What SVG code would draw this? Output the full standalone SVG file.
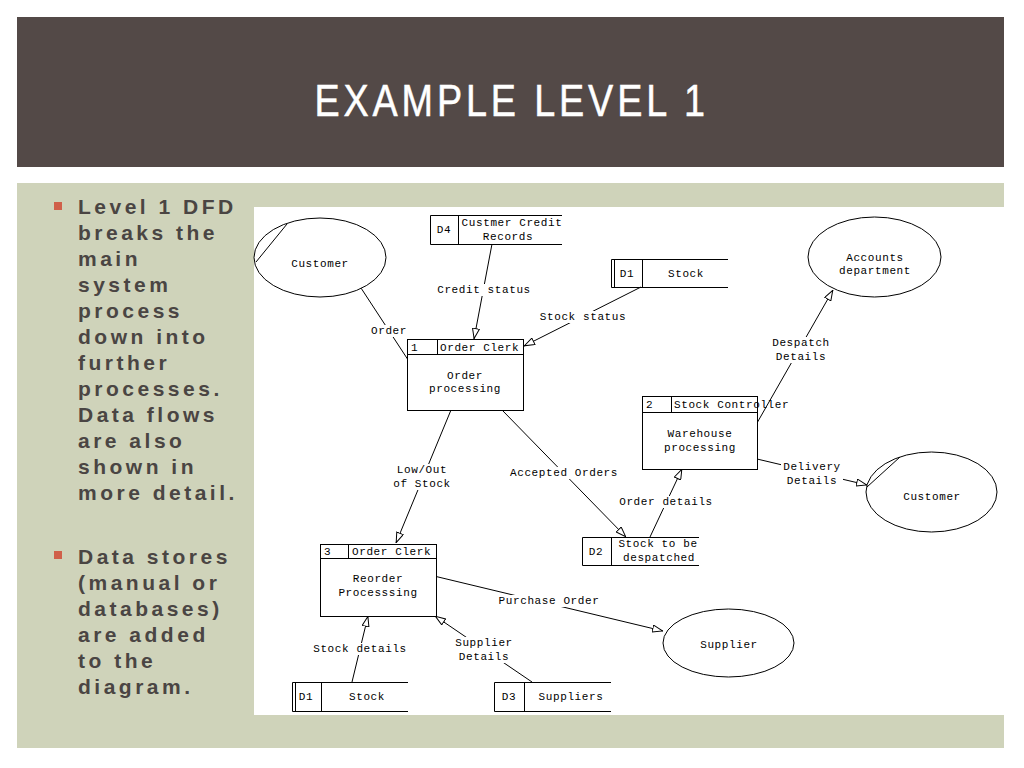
<svg xmlns="http://www.w3.org/2000/svg" width="1024" height="768" viewBox="0 0 1024 768">
<defs>
<style>
.title{font-family:"Liberation Sans","Arial",sans-serif;font-size:45px;fill:#ffffff;stroke:#ffffff;stroke-width:0.5px;text-anchor:middle;letter-spacing:3px;}
.bt{font-family:"Liberation Sans","Arial",sans-serif;font-size:21px;font-weight:bold;fill:#4a4543;letter-spacing:3.5px;}
.dt{font-family:"Liberation Mono","Courier New",monospace;font-size:11px;letter-spacing:0.6px;fill:#000;text-anchor:middle;}
.st{font-family:"Liberation Mono","Courier New",monospace;font-size:11px;letter-spacing:0.6px;fill:#000;}
.lbl{font-family:"Liberation Mono","Courier New",monospace;font-size:11px;letter-spacing:0.6px;fill:#000;text-anchor:middle;}
.bg{fill:#fff;stroke:none;}
.sh{fill:#fff;stroke:#000;stroke-width:1;}
.ln{fill:none;stroke:#000;stroke-width:1;}
.flow{fill:none;stroke:#000;stroke-width:1;marker-end:url(#arr);}
</style>
<marker id="arr" viewBox="0 0 11 8" refX="11" refY="4" markerWidth="11" markerHeight="8" markerUnits="userSpaceOnUse" orient="auto">
<path d="M0.5,0.5 L10.5,4 L0.5,7.5 Z" fill="#fff" stroke="#000" stroke-width="1"/>
</marker>
</defs>
<rect x="0" y="0" width="1024" height="768" fill="#ffffff"/>
<g id="header">
<rect x="17" y="17" width="987" height="150" fill="#534947"/>
<text class="title" transform="translate(511,116) scale(0.84,1)" x="0" y="0" textLength="468" lengthAdjust="spacing">EXAMPLE LEVEL 1</text>
</g>
<rect x="17" y="183" width="987" height="565" fill="#cfd3ba"/>
<g id="bullets">
<rect x="54" y="202" width="8" height="8" fill="#d0604a"/>
<text class="bt" x="78" y="214">Level 1 DFD</text>
<text class="bt" x="78" y="240">breaks the</text>
<text class="bt" x="78" y="266">main</text>
<text class="bt" x="78" y="292">system</text>
<text class="bt" x="78" y="318">process</text>
<text class="bt" x="78" y="344">down into</text>
<text class="bt" x="78" y="370">further</text>
<text class="bt" x="78" y="396">processes.</text>
<text class="bt" x="78" y="422">Data flows</text>
<text class="bt" x="78" y="448">are also</text>
<text class="bt" x="78" y="474">shown in</text>
<text class="bt" x="78" y="500">more detail.</text>
<rect x="54" y="551" width="8" height="8" fill="#d0604a"/>
<text class="bt" x="78" y="564">Data stores</text>
<text class="bt" x="78" y="590">(manual or</text>
<text class="bt" x="78" y="616">databases)</text>
<text class="bt" x="78" y="642">are added</text>
<text class="bt" x="78" y="668">to the</text>
<text class="bt" x="78" y="694">diagram.</text>
</g>
<rect x="254" y="207" width="750" height="508" fill="#ffffff"/>
<g id="connectors">
<path class="flow" d="M361,288 L416,372"/>
<path class="flow" d="M492,244 L474,339"/>
<path class="flow" d="M641,287 L524,346"/>
<path class="flow" d="M451,410 L396,543"/>
<path class="flow" d="M502,410 L626,537"/>
<path class="flow" d="M650,537 L682,469"/>
<path class="flow" d="M757,423 L833,290"/>
<path class="flow" d="M757,459 L867,485"/>
<path class="flow" d="M434,576 L663,631"/>
<path class="flow" d="M352,682 L368,616"/>
<path class="flow" d="M532,682 L435,616"/>
<rect class="bg" x="369" y="325" width="40" height="12"/>
<rect class="bg" x="435" y="284" width="98" height="12"/>
<rect class="bg" x="538" y="311" width="90" height="12"/>
<rect class="bg" x="391" y="464" width="62" height="26"/>
<rect class="bg" x="508" y="467" width="112" height="12"/>
<rect class="bg" x="617" y="496" width="98" height="12"/>
<rect class="bg" x="770" y="337" width="62" height="26"/>
<rect class="bg" x="781" y="461" width="62" height="26"/>
<rect class="bg" x="496" y="595" width="106" height="12"/>
<rect class="bg" x="311" y="643" width="98" height="12"/>
<rect class="bg" x="453" y="637" width="62" height="26"/>
<text class="lbl" x="389" y="334">Order</text>
<text class="lbl" x="484" y="293">Credit status</text>
<text class="lbl" x="583" y="320">Stock status</text>
<text class="lbl" x="422" y="473">Low/Out</text>
<text class="lbl" x="422" y="487">of Stock</text>
<text class="lbl" x="564" y="476">Accepted Orders</text>
<text class="lbl" x="666" y="505">Order details</text>
<text class="lbl" x="801" y="346">Despatch</text>
<text class="lbl" x="801" y="360">Details</text>
<text class="lbl" x="812" y="470">Delivery</text>
<text class="lbl" x="812" y="484">Details</text>
<text class="lbl" x="549" y="604">Purchase Order</text>
<text class="lbl" x="360" y="652">Stock details</text>
<text class="lbl" x="484" y="646">Supplier</text>
<text class="lbl" x="484" y="660">Details</text>
</g>
<g id="customer-left">
<ellipse class="sh" cx="320" cy="257.5" rx="66" ry="39.5"/>
<line class="ln" x1="256" y1="262" x2="287" y2="224"/>
<text class="dt" x="320" y="267">Customer</text>
</g>
<g id="d4-credit-records">
<path class="ln" d="M562,215.5 L430.5,215.5 L430.5,244.5 L562,244.5 M458.5,215.5 L458.5,244.5"/>
<text class="dt" x="444" y="233">D4</text>
<text class="dt" x="512" y="226">Custmer Credit</text>
<text class="dt" x="508" y="240">Records</text>
</g>
<g id="d1-stock-top">
<path class="ln" d="M728,259.5 L611.5,259.5 L611.5,287.5 L728,287.5 M614.5,259.5 L614.5,287.5 M642.5,259.5 L642.5,287.5"/>
<text class="dt" x="627" y="277">D1</text>
<text class="dt" x="686" y="277">Stock</text>
</g>
<g id="p1-order-processing">
<rect class="sh" x="407.5" y="339.5" width="116" height="71"/>
<path class="ln" d="M407.5,354.5 L523.5,354.5 M437.5,339.5 L437.5,354.5"/>
<text class="st" x="411" y="351">1</text>
<text class="st" x="440" y="351">Order Clerk</text>
<text class="dt" x="465" y="379">Order</text>
<text class="dt" x="465" y="392">processing</text>
</g>
<g id="accounts-department">
<ellipse class="sh" cx="874.5" cy="257" rx="66.5" ry="40"/>
<text class="dt" x="875" y="261">Accounts</text>
<text class="dt" x="875" y="274">department</text>
</g>
<g id="p2-warehouse">
<rect class="sh" x="642.5" y="396.5" width="115" height="73"/>
<path class="ln" d="M642.5,412.5 L757.5,412.5 M671.5,396.5 L671.5,412.5"/>
<text class="st" x="646" y="408">2</text>
<text class="st" x="674" y="408">Stock Controller</text>
<text class="dt" x="700" y="437">Warehouse</text>
<text class="dt" x="700" y="451">processing</text>
</g>
<g id="customer-right">
<ellipse class="sh" cx="931.5" cy="492" rx="65.5" ry="40"/>
<line class="ln" x1="867" y1="487" x2="900" y2="457"/>
<text class="dt" x="932" y="500">Customer</text>
</g>
<g id="d2-stock-despatched">
<path class="ln" d="M699,537.5 L582.5,537.5 L582.5,565.5 L699,565.5 M611.5,537.5 L611.5,565.5"/>
<text class="dt" x="596" y="555">D2</text>
<text class="dt" x="658" y="547">Stock to be</text>
<text class="dt" x="659" y="561">despatched</text>
</g>
<g id="p3-reorder">
<rect class="sh" x="320.5" y="544.5" width="116" height="72"/>
<path class="ln" d="M320.5,558.5 L436.5,558.5 M348.5,544.5 L348.5,558.5"/>
<text class="st" x="324" y="555">3</text>
<text class="st" x="352" y="555">Order Clerk</text>
<text class="dt" x="378" y="582">Reorder</text>
<text class="dt" x="378" y="596">Processsing</text>
</g>
<g id="supplier">
<ellipse class="sh" cx="728.5" cy="643" rx="65.5" ry="34"/>
<text class="dt" x="729" y="648">Supplier</text>
</g>
<g id="d1-stock-bottom">
<path class="ln" d="M408,682.5 L292.5,682.5 L292.5,711.5 L408,711.5 M295.5,682.5 L295.5,711.5 M321.5,682.5 L321.5,711.5"/>
<text class="dt" x="306" y="700">D1</text>
<text class="dt" x="367" y="700">Stock</text>
</g>
<g id="d3-suppliers">
<path class="ln" d="M611,682.5 L494.5,682.5 L494.5,711.5 L611,711.5 M524.5,682.5 L524.5,711.5"/>
<text class="dt" x="509" y="700">D3</text>
<text class="dt" x="571" y="700">Suppliers</text>
</g>
</svg>
